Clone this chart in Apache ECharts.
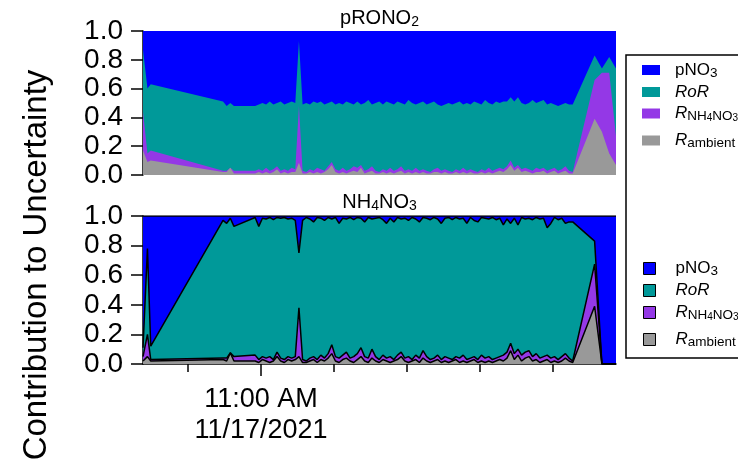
<!DOCTYPE html>
<html><head><meta charset="utf-8">
<script src="https://cdn.jsdelivr.net/npm/echarts@6/dist/echarts.min.js"></script>
<style>html,body{margin:0;padding:0;background:#fff}#c{width:738px;height:463px}</style>
</head><body><div id="c"></div>
<script>
// time in minutes relative to 11:00 AM 11/17/2021
const minutesFrom11AM = [
  -16.16, -15.55, -15.1, -5.2, -4.7, -4.2, -3.7,
  -0.8, -0.3, 0.2, 0.7, 1.2, 1.7, 2.2, 2.7, 3.2, 3.7, 4.2,
  4.7, 5.2, 5.7, 6.2, 6.7, 7.2, 7.7, 8.2, 8.7, 9.2, 9.7,
  10.2, 10.7, 11.2, 11.7, 12.2, 12.7, 13.2, 13.7, 14.2, 14.7, 15.2,
  15.7, 16.2, 16.7, 17.2, 17.7, 18.2, 18.7, 19.2, 19.7, 20.2, 20.7,
  21.2, 21.7, 22.2, 22.7, 23.2, 23.7, 24.2, 24.7, 25.2, 25.7, 26.2,
  26.7, 27.2, 27.7, 28.2, 28.7, 29.2, 29.7, 30.2, 30.7, 31.2, 31.7,
  32.2, 32.7, 33.2, 33.7, 34.2, 34.7, 35.2, 35.7, 36.2, 36.7, 37.2,
  37.7, 38.2, 38.7, 39.2, 39.7, 40.2, 40.7, 41.2, 41.7, 42.2, 42.7,
  45.7, 46.7, 47.7, 48.63
];
const xTickValues = [-10, 0, 10, 20, 30, 40];
const xLabelValues = [0];
const xLabelText = '11:00 AM\n11/17/2021';

// cumulative (stacked) tops, panel pRONO2
const pRONO2_pNO3Top = [
  1, 1, 1, 1, 1, 1, 1,
  1, 1, 1, 1, 1, 1, 1, 1, 1, 1, 1,
  1, 1, 1, 1, 1, 1, 1, 1, 1, 1, 1,
  1, 1, 1, 1, 1, 1, 1, 1, 1, 1, 1,
  1, 1, 1, 1, 1, 1, 1, 1, 1, 1, 1,
  1, 1, 1, 1, 1, 1, 1, 1, 1, 1, 1,
  1, 1, 1, 1, 1, 1, 1, 1, 1, 1, 1,
  1, 1, 1, 1, 1, 1, 1, 1, 1, 1, 1,
  1, 1, 1, 1, 1, 1, 1, 1, 1, 1, 1,
  1, 1, 1, 1
];
const pRONO2_RoRTop = [
  0.87, 0.60, 0.63, 0.51, 0.48, 0.50, 0.48,
  0.48, 0.49, 0.50, 0.49, 0.51, 0.49, 0.50, 0.51, 0.49, 0.50, 0.51,
  0.50, 0.93, 0.49, 0.50, 0.49, 0.51, 0.50, 0.51, 0.49, 0.50, 0.51,
  0.49, 0.50, 0.49, 0.51, 0.50, 0.49, 0.51, 0.49, 0.50, 0.52, 0.49,
  0.50, 0.51, 0.49, 0.51, 0.50, 0.49, 0.51, 0.50, 0.49, 0.52, 0.50,
  0.49, 0.50, 0.51, 0.49, 0.50, 0.51, 0.49, 0.48, 0.49, 0.50, 0.49,
  0.50, 0.51, 0.49, 0.50, 0.49, 0.51, 0.50, 0.49, 0.52, 0.50, 0.49,
  0.51, 0.50, 0.51, 0.51, 0.54, 0.51, 0.54, 0.50, 0.49, 0.50, 0.52,
  0.50, 0.51, 0.52, 0.49, 0.50, 0.49, 0.48, 0.49, 0.50, 0.49, 0.49,
  0.83, 0.74, 0.82, 0.74
];
const pRONO2_NH4NO3Top = [
  0.44, 0.15, 0.17, 0.03, 0.03, 0.05, 0.03,
  0.03, 0.04, 0.03, 0.05, 0.03, 0.04, 0.06, 0.03, 0.04, 0.03, 0.05,
  0.04, 0.48, 0.03, 0.02, 0.04, 0.03, 0.05, 0.04, 0.03, 0.06, 0.09,
  0.04, 0.03, 0.05, 0.03, 0.04, 0.06, 0.05, 0.07, 0.03, 0.04, 0.06,
  0.03, 0.02, 0.04, 0.03, 0.05, 0.03, 0.04, 0.06, 0.03, 0.04, 0.03,
  0.05, 0.03, 0.04, 0.03, 0.02, 0.04, 0.05, 0.03, 0.04, 0.03, 0.02,
  0.04, 0.03, 0.05, 0.03, 0.04, 0.03, 0.02, 0.04, 0.03, 0.05, 0.03,
  0.04, 0.05, 0.04, 0.06, 0.10, 0.05, 0.07, 0.04, 0.05, 0.04, 0.03,
  0.05, 0.04, 0.05, 0.03, 0.04, 0.05, 0.03, 0.04, 0.06, 0.03, 0.02,
  0.66, 0.71, 0.71, 0.27
];
const pRONO2_ambientTop = [
  0.17, 0.09, 0.10, 0.02, 0.02, 0.05, 0.01,
  0.01, 0.02, 0.01, 0.02, 0.01, 0.02, 0.04, 0.01, 0.02, 0.01, 0.02,
  0.02, 0.085, 0.01, 0.01, 0.02, 0.01, 0.02, 0.01, 0.02, 0.04, 0.07,
  0.02, 0.01, 0.02, 0.01, 0.02, 0.03, 0.02, 0.05, 0.01, 0.02, 0.03,
  0.01, 0.01, 0.02, 0.01, 0.02, 0.01, 0.02, 0.03, 0.01, 0.02, 0.01,
  0.02, 0.01, 0.02, 0.01, 0.01, 0.02, 0.02, 0.01, 0.02, 0.01, 0.01,
  0.02, 0.01, 0.02, 0.01, 0.02, 0.01, 0.01, 0.02, 0.01, 0.02, 0.01,
  0.02, 0.03, 0.02, 0.04, 0.07, 0.03, 0.05, 0.02, 0.03, 0.02, 0.01,
  0.02, 0.02, 0.03, 0.01, 0.02, 0.03, 0.01, 0.02, 0.03, 0.01, 0.01,
  0.39, 0.30, 0.15, 0.07
];

// cumulative (stacked) tops, panel NH4NO3
const NH4NO3_pNO3Top = [
  1, 1, 1, 1, 1, 1, 1,
  1, 1, 1, 1, 1, 1, 1, 1, 1, 1, 1,
  1, 1, 1, 1, 1, 1, 1, 1, 1, 1, 1,
  1, 1, 1, 1, 1, 1, 1, 1, 1, 1, 1,
  1, 1, 1, 1, 1, 1, 1, 1, 1, 1, 1,
  1, 1, 1, 1, 1, 1, 1, 1, 1, 1, 1,
  1, 1, 1, 1, 1, 1, 1, 1, 1, 1, 1,
  1, 1, 1, 1, 1, 1, 1, 1, 1, 1, 1,
  1, 1, 1, 1, 1, 1, 1, 1, 1, 1, 1,
  1, 1, 1, 1
];
const NH4NO3_RoRTop = [
  0.11, 0.78, 0.12, 0.97, 0.95, 0.985, 0.93,
  0.99, 0.93, 0.985, 0.98, 0.99, 0.975, 0.99, 0.985, 0.99, 0.98, 0.985,
  0.97, 0.75, 0.97, 0.99, 0.98, 0.96, 0.99, 0.985, 0.97, 0.99, 0.98,
  0.99, 0.95, 0.985, 0.98, 0.99, 0.975, 0.99, 0.985, 0.96, 0.99, 0.98,
  0.985, 0.99, 0.975, 0.95, 0.985, 0.96, 0.99, 0.98, 0.985, 0.97, 0.99,
  0.98, 0.96, 0.99, 0.985, 0.975, 0.99, 0.98, 0.95, 0.985, 0.99, 0.975,
  0.99, 0.98, 0.985, 0.95, 0.99, 0.97, 0.96, 0.99, 0.985, 0.98, 0.99,
  0.975, 0.985, 0.94, 0.98, 0.95, 0.985, 0.94, 0.99, 0.98, 0.985, 0.975,
  0.99, 0.98, 0.985, 0.92, 0.95, 0.99, 0.975, 0.985, 0.95, 0.96, 0.96,
  0.83, 0, 0, 0
];
const NH4NO3_NH4NO3Top = [
  0.05, 0.20, 0.03, 0.04, 0.04, 0.075, 0.05,
  0.06, 0.03, 0.05, 0.04, 0.05, 0.03, 0.08, 0.04, 0.03, 0.05, 0.04,
  0.05, 0.38, 0.03, 0.02, 0.04, 0.05, 0.03, 0.06, 0.04, 0.07, 0.13,
  0.05, 0.04, 0.06, 0.08, 0.04, 0.05, 0.07, 0.11, 0.05, 0.04, 0.10,
  0.05, 0.03, 0.06, 0.04, 0.05, 0.03, 0.06, 0.08, 0.04, 0.05, 0.03,
  0.06, 0.04, 0.09, 0.05, 0.03, 0.04, 0.06, 0.03, 0.05, 0.04, 0.03,
  0.05, 0.04, 0.06, 0.03, 0.04, 0.05, 0.03, 0.06, 0.04, 0.05, 0.03,
  0.04, 0.05, 0.06, 0.08, 0.14, 0.07, 0.10, 0.06, 0.08, 0.09, 0.05,
  0.07, 0.04, 0.05, 0.06, 0.04, 0.05, 0.03, 0.05, 0.07, 0.04, 0.02,
  0.675, 0, 0, 0
];
const NH4NO3_ambientTop = [
  0.02, 0.05, 0.02, 0.03, 0.02, 0.075, 0.02,
  0.02, 0.01, 0.03, 0.02, 0.01, 0.02, 0.05, 0.02, 0.01, 0.03, 0.02,
  0.03, 0.05, 0.01, 0.01, 0.02, 0.03, 0.01, 0.03, 0.02, 0.04, 0.07,
  0.02, 0.01, 0.03, 0.04, 0.02, 0.01, 0.03, 0.05, 0.02, 0.01, 0.04,
  0.02, 0.01, 0.03, 0.02, 0.01, 0.02, 0.03, 0.05, 0.02, 0.01, 0.02,
  0.03, 0.01, 0.04, 0.02, 0.01, 0.02, 0.03, 0.01, 0.02, 0.01, 0.02,
  0.03, 0.01, 0.02, 0.01, 0.02, 0.03, 0.01, 0.02, 0.01, 0.02, 0.01,
  0.02, 0.03, 0.02, 0.04, 0.09, 0.03, 0.06, 0.02, 0.04, 0.05, 0.02,
  0.03, 0.01, 0.02, 0.03, 0.01, 0.02, 0.01, 0.02, 0.04, 0.02, 0.01,
  0.39, 0, 0, 0
];

const FONT = '"Liberation Sans", Arial, Helvetica, sans-serif';
const C_BLUE = '#0000FF', C_TEAL = '#009999', C_PURPLE = '#9438E6', C_GRAY = '#999999';
const XMIN = minutesFrom11AM[0], XMAX = minutesFrom11AM[minutesFrom11AM.length - 1];

function mk(name, xi, yi, vals, color, outlined) {
  return {
    type: 'line', name: name, xAxisIndex: xi, yAxisIndex: yi,
    data: minutesFrom11AM.map((t, i) => [t, vals[i]]),
    symbol: 'none', showSymbol: false, silent: true, animation: false,
    lineStyle: outlined ? { color: '#000', width: 1.5 } : { color: color, width: 0, opacity: 0 },
    itemStyle: { color: color },
    areaStyle: { color: color, opacity: 1 }
  };
}

const rich = {
  n: { fontSize: 17, fontFamily: FONT, color: '#000', lineHeight: 20 },
  i: { fontSize: 17, fontFamily: FONT, color: '#000', lineHeight: 20, fontStyle: 'italic' },
  s: { fontSize: 13.5, fontFamily: FONT, color: '#000', lineHeight: 6, verticalAlign: 'bottom' },
  ss: { fontSize: 10, fontFamily: FONT, color: '#000', lineHeight: 0, verticalAlign: 'bottom' }
};
const labelMap = {
  pNO3: '{n|pNO}{s|3}',
  RoR: '{i|RoR}',
  NH: '{i|R}{s|NH}{ss|4}{s|NO}{ss|3}',
  amb: '{i|R}{s|ambient}'
};
function leg(name, key, center, left, w, h, color, bordered, pad) {
  return {
    data: [{ name: name, icon: 'rect', itemStyle: { color: color, borderColor: bordered ? '#000' : color, borderWidth: bordered ? 1 : 0 } }],
    left: left, top: center - 10, padding: 0, orient: 'vertical',
    itemWidth: w, itemHeight: h, selectedMode: false,
    formatter: () => labelMap[key],
    textStyle: { rich: rich, padding: [0, 0, 0, pad], fontFamily: FONT, fontSize: 17, color: '#000' }
  };
}

const titleRich = {
  a: { fontSize: 20, fontFamily: FONT, fontWeight: 'normal', color: '#000', lineHeight: 22 },
  s: { fontSize: 14, fontFamily: FONT, fontWeight: 'normal', color: '#000', lineHeight: 6, verticalAlign: 'bottom' }
};

const option = {
  animation: false,
  backgroundColor: '#fff',
  title: [
    { text: '{a|pRONO}{s|2}', left: 379.5, textAlign: 'center', top: 7, padding: 0,
      textStyle: { fontWeight: 'normal', rich: titleRich } },
    { text: '{a|NH}{s|4}{a|NO}{s|3}', left: 379.5, textAlign: 'center', top: 191, padding: 0,
      textStyle: { fontWeight: 'normal', rich: titleRich } }
  ],
  grid: [
    { left: 143, right: 122, top: 31, height: 144 },
    { left: 143, right: 122, top: 216, height: 148 }
  ],
  xAxis: [
    { type: 'value', gridIndex: 0, min: XMIN, max: XMAX, show: false,
      axisLine: { show: false, onZero: false }, axisTick: { show: false }, axisLabel: { show: false }, splitLine: { show: false } },
    { type: 'value', gridIndex: 1, position: 'bottom', min: XMIN, max: XMAX, splitLine: { show: false },
      axisLine: { show: true, onZero: false, lineStyle: { color: '#000', width: 1.5 } },
      axisTick: { show: true, length: 8, customValues: xTickValues, lineStyle: { color: '#000', width: 1.5 } },
      axisLabel: { show: false } },
    { type: 'value', gridIndex: 1, position: 'bottom', min: XMIN, max: XMAX, splitLine: { show: false },
      axisLine: { show: false, onZero: false },
      axisTick: { show: true, length: 12, customValues: xLabelValues, lineStyle: { color: '#000', width: 1.5 } },
      axisLabel: { show: true, customValues: xLabelValues, formatter: () => xLabelText, margin: 20,
        fontSize: 27, lineHeight: 31, fontFamily: FONT, color: '#000', align: 'center' } }
  ],
  yAxis: [0, 1].map(g => ({
    type: 'value', gridIndex: g, min: 0, max: 1, interval: 0.2, splitLine: { show: false },
    axisLine: { show: true, onZero: false, lineStyle: { color: '#000', width: 1.5 } },
    axisTick: { show: true, length: 12, lineStyle: { color: '#000', width: 1.5 } },
    axisLabel: { formatter: v => v.toFixed(1), margin: 20, fontSize: 28, fontFamily: FONT, color: '#000' }
  })),
  legend: [
    leg('pNO3|a', 'pNO3', 71.5, 642, 18, 10, C_BLUE, false, 10),
    leg('RoR|a', 'RoR', 93.5, 642, 18, 10, C_TEAL, false, 10),
    leg('NH|a', 'NH', 115, 642, 18, 10, C_PURPLE, false, 10),
    leg('amb|a', 'amb', 142, 642, 18, 10, C_GRAY, false, 10),
    leg('pNO3|b', 'pNO3', 270, 643, 12, 12, C_BLUE, true, 15),
    leg('RoR|b', 'RoR', 292, 643, 12, 12, C_TEAL, true, 15),
    leg('NH|b', 'NH', 314, 643, 12, 12, C_PURPLE, true, 15),
    leg('amb|b', 'amb', 341, 643, 12, 12, C_GRAY, true, 15)
  ],
  graphic: [
    { type: 'rect', shape: { x: 626, y: 55, width: 200, height: 303 },
      style: { fill: 'none', stroke: '#000', lineWidth: 1.5 } },
    { type: 'text', x: 37, y: 265, rotation: Math.PI / 2,
      style: { text: 'Contribution to Uncertainty', font: '33px ' + FONT, textAlign: 'center', textVerticalAlign: 'middle', fill: '#000' } }
  ],
  series: [
    mk('pNO3|a', 0, 0, pRONO2_pNO3Top, C_BLUE, false),
    mk('RoR|a', 0, 0, pRONO2_RoRTop, C_TEAL, false),
    mk('NH|a', 0, 0, pRONO2_NH4NO3Top, C_PURPLE, false),
    mk('amb|a', 0, 0, pRONO2_ambientTop, C_GRAY, false),
    mk('pNO3|b', 1, 1, NH4NO3_pNO3Top, C_BLUE, true),
    mk('RoR|b', 1, 1, NH4NO3_RoRTop, C_TEAL, true),
    mk('NH|b', 1, 1, NH4NO3_NH4NO3Top, C_PURPLE, true),
    mk('amb|b', 1, 1, NH4NO3_ambientTop, C_GRAY, true)
  ]
};
const chart = echarts.init(document.getElementById('c'), null, { renderer: 'canvas' });
chart.setOption(option);
</script>
</body></html>
